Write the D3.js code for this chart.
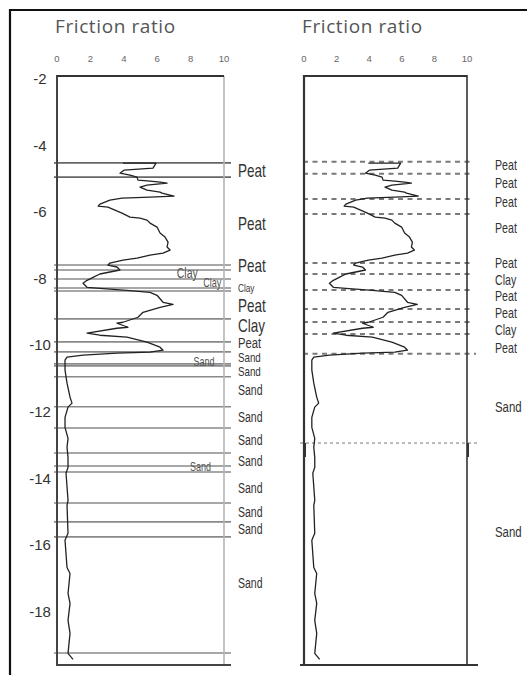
<!DOCTYPE html>
<html>
<head>
<meta charset="utf-8">
<script src="https://cdn.jsdelivr.net/npm/d3@7"></script>
<style>
  html, body { margin: 0; padding: 0; background: #fff; }
  svg { display: block; }
</style>
</head>
<body>
<svg id="chart" width="527" height="675"></svg>
<script>
// Depth axis ticks (m) and friction ratio ticks (%)
const depthTicks = [-2, -4, -6, -8, -10, -12, -14, -16, -18];
const frTicks = [0, 2, 4, 6, 8, 10];

// CPT friction ratio profile: depth (m) and friction ratio (%)
const cptDepth = [-4.62, -4.62, -4.77, -4.83, -4.92, -4.98, -5.04, -5.13, -5.16, -5.19,
  -5.22, -5.28, -5.34, -5.43, -5.49, -5.52, -5.61, -5.64, -5.67, -5.73,
  -5.85, -5.91, -5.94, -6.03, -6.12, -6.24, -6.27, -6.33, -6.42, -6.54,
  -6.72, -6.84, -6.99, -7.14, -7.23, -7.32, -7.38, -7.47, -7.53, -7.62,
  -7.68, -7.74, -7.83, -7.89, -7.95, -8.05, -8.14, -8.23, -8.35, -8.38,
  -8.44, -8.50, -8.59, -8.80, -8.86, -8.95, -9.10, -9.25, -9.40, -9.43,
  -9.55, -9.58, -9.73, -9.79, -9.85, -10.00, -10.15, -10.24, -10.30, -10.33,
  -10.39, -10.45, -10.54, -10.84, -11.23, -11.65, -11.83, -11.95, -12.26, -12.56,
  -12.89, -13.16, -13.46, -13.76, -13.94, -14.75, -14.90, -15.74, -15.95, -16.77,
  -16.95, -17.55, -17.85, -18.36, -18.75, -19.35, -19.53];
const cptFR = [3.95, 5.93, 5.75, 4.01, 3.77, 4.37, 4.79, 4.85, 5.57, 6.17,
  6.59, 5.39, 4.97, 5.39, 6.17, 6.29, 7.01, 5.57, 3.89, 3.17,
  2.57, 2.46, 3.05, 3.47, 3.89, 4.37, 4.97, 5.39, 5.57, 5.99,
  6.17, 6.47, 6.65, 6.59, 6.77, 6.35, 5.57, 4.79, 3.95, 3.17,
  3.05, 3.59, 3.77, 3.17, 2.57, 2.16, 1.80, 1.56, 1.80, 2.57,
  4.19, 5.57, 5.99, 6.35, 6.95, 6.17, 5.15, 4.85, 3.95, 3.59,
  4.25, 3.59, 1.80, 2.57, 4.19, 5.39, 6.17, 6.35, 5.57, 3.59,
  1.56, 0.60, 0.48, 0.48, 0.60, 0.78, 0.90, 0.66, 0.48, 0.48,
  0.66, 0.60, 0.66, 0.66, 0.54, 0.66, 0.60, 0.66, 0.48, 0.60,
  0.78, 0.66, 0.78, 0.66, 0.78, 0.66, 0.96];

// Left log: layer boundaries (m) and layer labels
const leftBoundaries = [-4.61, -5.04, -7.68, -7.83, -8.10, -8.37, -8.46, -9.30, -9.99,
  -10.29, -10.65, -10.71, -11.04, -11.94, -12.58, -13.33, -13.72, -13.90,
  -14.83, -15.40, -15.85, -19.34];
const leftLabels = ["Peat", "Peat", "Peat", "Clay", "Peat", "Clay", "Peat", "Sand", "Sand",
  "Sand", "Sand", "Sand", "Sand", "Sand", "Sand", "Sand", "Sand"];
const leftLabelDepths = [-4.86, -6.45, -7.71, -8.38, -8.89, -9.49, -10.03, -10.45, -10.87,
  -11.44, -12.25, -12.95, -13.58, -14.39, -15.11, -15.62, -17.24];
// Labels written inside the left log
const innerLabels = ["Clay", "Clay", "Sand", "Sand"];
const innerLabelFR = [7.8, 9.3, 8.8, 8.6];
const innerLabelDepths = [-7.92, -8.22, -10.6, -13.75];

// Right log: interpreted boundaries (m) and layer labels
const rightBoundaries = [-4.58, -4.94, -5.70, -6.15, -7.62, -7.95, -8.43, -9.00, -9.39, -9.75, -10.35];
const rightBreak = [-13.03];
const rightLabels = ["Peat", "Peat", "Peat", "Peat", "Peat", "Clay", "Peat", "Peat", "Clay", "Peat", "Sand", "Sand"];
const rightLabelDepths = [-4.68, -5.22, -5.79, -6.57, -7.62, -8.13, -8.61, -9.12, -9.63, -10.17, -11.95, -15.70];

const svg = d3.select("#chart");
const yTop = 76, yBottom = 665;
const y = d3.scaleLinear().domain([-2, -19.7]).range([yTop, yBottom]);
const xL = d3.scaleLinear().domain([0, 10]).range([57, 224]);
const xR = d3.scaleLinear().domain([0, 10]).range([304, 467]);
const profile = cptDepth.map((d, i) => ({ depth: d, fr: cptFR[i] }));

// outer frame (top and left edges)
svg.append("path").attr("d", "M10,675V10H527").attr("fill", "none")
  .attr("stroke", "#111").attr("stroke-width", 2.2);

const narrow = (sel, sx) => sel.attr("transform", function () {
  const t = d3.select(this);
  return `translate(${t.attr("data-x")},${t.attr("data-y")}) scale(${sx},1)`;
});

function panelHeader(x) {
  const g = svg.append("g");
  g.append("text").attr("x", x.range()[0] - 2).attr("y", 33)
    .attr("font-family", "'Open Sans', sans-serif").attr("font-size", 19)
    .attr("letter-spacing", 0.6).attr("fill", "#555").text("Friction ratio");
  g.selectAll(".tk").data(frTicks).join("text")
    .attr("x", d => x(d)).attr("y", 62).attr("text-anchor", "middle")
    .attr("font-family", "'Liberation Sans', Arial, sans-serif").attr("font-size", 9.5)
    .attr("fill", "#666").text(d => d);
}
panelHeader(xL);
panelHeader(xR);

// ---- Left log ----
const gL = svg.append("g");
gL.selectAll(".bnd").data(leftBoundaries).join("line")
  .attr("x1", 54).attr("x2", 231)
  .attr("y1", d => y(d)).attr("y2", d => y(d))
  .attr("stroke", (d, i) => i < 2 ? "#666" : "#8a8a8a").attr("stroke-width", 1.6);

gL.append("line").attr("x1", xL(10)).attr("x2", xL(10)).attr("y1", yTop).attr("y2", yBottom)
  .attr("stroke", "#b5b5b5").attr("stroke-width", 1.6);
gL.append("line").attr("x1", xL(0)).attr("x2", xL(0)).attr("y1", yTop - 1).attr("y2", yBottom + 1)
  .attr("stroke", "#444").attr("stroke-width", 2);
gL.append("line").attr("x1", xL(0)).attr("x2", xL(10)).attr("y1", yTop).attr("y2", yTop)
  .attr("stroke", "#333").attr("stroke-width", 2);
gL.append("line").attr("x1", xL(0)).attr("x2", 231).attr("y1", yBottom).attr("y2", yBottom)
  .attr("stroke", "#444").attr("stroke-width", 2);

// depth axis labels
gL.selectAll(".dl").data(depthTicks).join("text")
  .attr("x", 40).attr("y", d => y(d) + 3).attr("dy", "0.35em").attr("text-anchor", "middle")
  .attr("font-family", "'Liberation Sans', Arial, sans-serif").attr("font-size", 15)
  .attr("fill", "#333").text(d => d);

const line = x => d3.line().x(d => x(d.fr)).y(d => y(d.depth));
gL.append("path").datum(profile).attr("d", line(xL)).attr("fill", "none")
  .attr("stroke", "#222").attr("stroke-width", 1.3).attr("stroke-linejoin", "round");

// layer names beside the left log
const leftFont = [18, 18, 18, 11, 18, 18, 15, 13, 13, 14, 14, 14, 14, 14, 14, 14, 14];
gL.selectAll(".ll").data(leftLabels).join("text")
  .attr("data-x", 238).attr("data-y", (d, i) => y(leftLabelDepths[i]))
  .attr("dy", "0.35em")
  .attr("font-family", "'Liberation Sans', Arial, sans-serif")
  .attr("font-size", (d, i) => leftFont[i]).attr("fill", "#333").text(d => d)
  .call(narrow, 0.75);

const innerFont = [14, 12, 12, 12];
gL.selectAll(".il").data(innerLabels).join("text")
  .attr("data-x", (d, i) => xL(innerLabelFR[i])).attr("data-y", (d, i) => y(innerLabelDepths[i]))
  .attr("dy", "0.35em").attr("text-anchor", "middle")
  .attr("font-family", "'Liberation Sans', Arial, sans-serif")
  .attr("font-size", (d, i) => innerFont[i]).attr("fill", "#555").text(d => d)
  .call(narrow, 0.75);

// ---- Right log ----
const gR = svg.append("g");
gR.selectAll(".bnd").data(rightBoundaries).join("line")
  .attr("x1", 303).attr("x2", (d, i) => i === rightBoundaries.length - 1 ? 476 : 473)
  .attr("y1", d => y(d)).attr("y2", d => y(d))
  .attr("stroke", "#7a7a7a").attr("stroke-width", 2).attr("stroke-dasharray", "5,4.5");
gR.selectAll(".brk").data(rightBreak).join("line")
  .attr("x1", 300).attr("x2", 477)
  .attr("y1", d => y(d)).attr("y2", d => y(d))
  .attr("stroke", "#777").attr("stroke-width", 1).attr("stroke-dasharray", "3,3");

gR.append("line").attr("x1", xR(0)).attr("x2", xR(0)).attr("y1", yTop - 1).attr("y2", yBottom)
  .attr("stroke", "#333").attr("stroke-width", 2.2);
gR.append("line").attr("x1", xR(10)).attr("x2", xR(10)).attr("y1", yTop - 1).attr("y2", yBottom)
  .attr("stroke", "#333").attr("stroke-width", 1.6);
gR.append("line").attr("x1", xR(0)).attr("x2", xR(10)).attr("y1", yTop).attr("y2", yTop)
  .attr("stroke", "#333").attr("stroke-width", 2);
gR.append("line").attr("x1", 300).attr("x2", 478).attr("y1", yBottom).attr("y2", yBottom)
  .attr("stroke", "#333").attr("stroke-width", 2);
// short offset marks where the log continues below the break
rightBreak.forEach(b => {
  [xR(0), xR(10)].forEach(xx => {
    gR.append("line").attr("x1", xx + 1).attr("x2", xx + 1)
      .attr("y1", y(b)).attr("y2", y(b) + 14)
      .attr("stroke", "#333").attr("stroke-width", 2);
  });
});

gR.append("path").datum(profile).attr("d", line(xR)).attr("fill", "none")
  .attr("stroke", "#222").attr("stroke-width", 1.3).attr("stroke-linejoin", "round");

const rightFont = [14, 14, 14, 14, 14, 14, 14, 14, 14, 14, 15, 15];
gR.selectAll(".rl").data(rightLabels).join("text")
  .attr("data-x", 495).attr("data-y", (d, i) => y(rightLabelDepths[i]))
  .attr("dy", "0.35em")
  .attr("font-family", "'Liberation Sans', Arial, sans-serif")
  .attr("font-size", (d, i) => rightFont[i]).attr("fill", "#333").text(d => d)
  .call(narrow, 0.76);
</script>
</body>
</html>
